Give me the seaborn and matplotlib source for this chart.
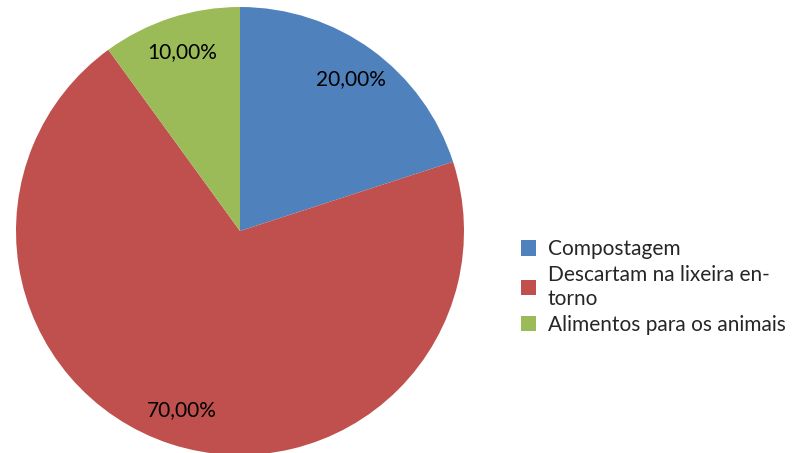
import matplotlib
matplotlib.use("Agg")
import matplotlib.pyplot as plt
import seaborn as sns
from matplotlib.patches import Patch

sns.set_theme(style="white")
plt.rcParams['font.family'] = ['Lato', 'DejaVu Sans']

categories = ["Compostagem", "Descartam na lixeira en-\ntorno", "Alimentos para os animais"]
values = [20.0, 70.0, 10.0]
colors = ["#4F81BD", "#C0504D", "#9BBB59"]

W, H = 792, 453
fig = plt.figure(figsize=(W / 100, H / 100), dpi=100)
cx, cy, r = 240, 231, 224
ax = fig.add_axes([(cx - r) / W, (H - cy - r) / H, 2 * r / W, 2 * r / H])

wedges, texts, autotexts = ax.pie(
    values, colors=colors, startangle=90, counterclock=False,
    autopct=lambda p: f"{p:.2f}%".replace(".", ","), pctdistance=0.84,
    radius=1.0, wedgeprops=dict(linewidth=0),
    textprops=dict(fontsize=15, color="black"))
ax.set_xlim(-1, 1)
ax.set_ylim(-1, 1)
ax.set_aspect("equal")
ax.axis("off")

handles = [Patch(facecolor=c, edgecolor="none") for c in colors]
fig.legend(handles, categories, loc="center left",
           bbox_to_anchor=(502 / W, (H - 287) / H), frameon=False,
           fontsize=15, handlelength=0.75, handleheight=0.75, handletextpad=0.55,
           labelspacing=0.3)

fig.savefig("out.png", dpi=100)
